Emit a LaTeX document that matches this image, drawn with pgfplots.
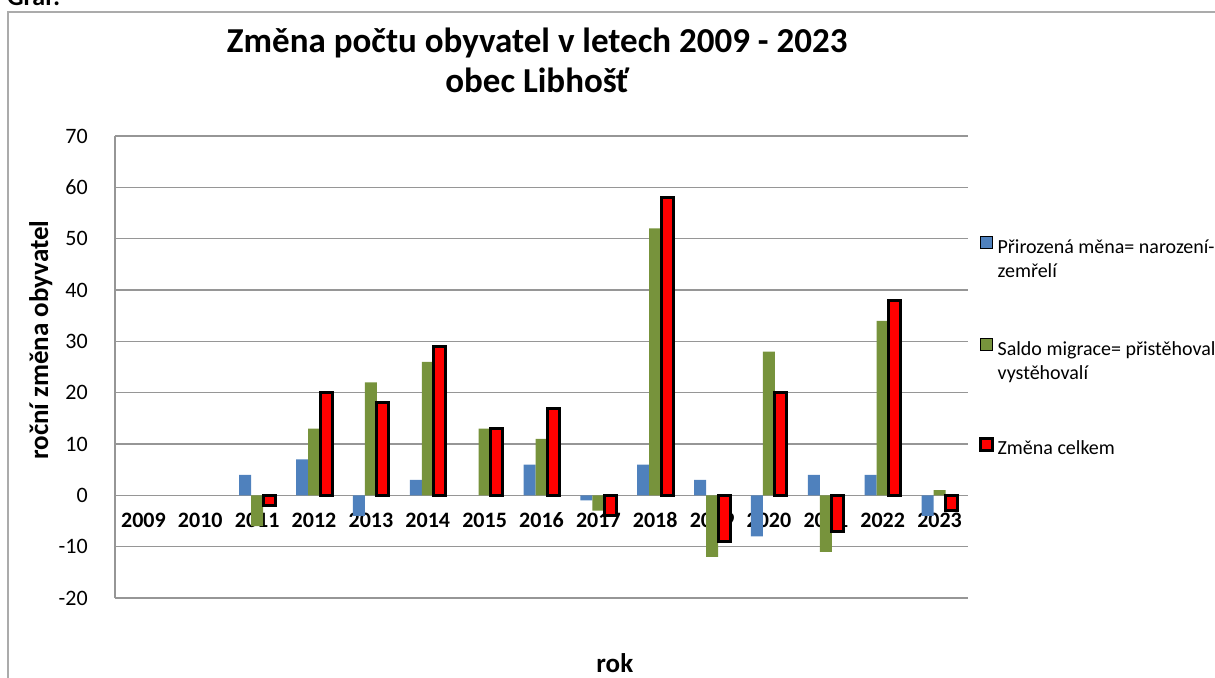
\documentclass[border=0pt]{standalone}
\usepackage{fontspec}
\setmainfont{Carlito}
\usepackage{pgfplots}
\pgfplotsset{compat=1.18}
\definecolor{cblue}{RGB}{79,129,189}
\definecolor{cgreen}{RGB}{119,147,60}
\definecolor{gridgray}{RGB}{150,150,150}
\begin{document}
\begin{tikzpicture}
\begin{axis}[
  scale only axis,
  width=426.5pt, height=231pt,
  ybar=0pt, bar width=6pt,
  xmin=-0.5, xmax=14.5, ymin=-20, ymax=70,
  ytick={-20,-10,...,70},
  xtick={0,...,14},
  xticklabels={2009,2010,2011,2012,2013,2014,2015,2016,2017,2018,2019,2020,2021,2022,2023},
  axis x line=middle, axis y line=left,
  hide obscured x ticks=false,
  axis line style={-, gridgray, line width=0.8pt},
  x axis line style={gridgray, line width=0.8pt},
  xtick style={draw=none}, ytick style={draw=none},
  ymajorgrids, grid style={gridgray, line width=0.8pt},
  /pgf/number format/assume math mode=true,
  yticklabel style={font=\fontsize{11}{13}\selectfont, xshift=-8pt},
  xticklabel style={font=\bfseries\fontsize{11}{13}\selectfont, yshift=-3pt},
  title={Změna počtu obyvatel v letech 2009 - 2023\\obec Libhošť},
  title style={at={(axis description cs:0.495,1.137)}, anchor=center, align=center,
    font=\bfseries\fontsize{17.5}{20}\selectfont},
  ylabel={roční změna obyvatel},
  ylabel style={at={(axis description cs:-0.087,0.558)}, anchor=center,
    font=\bfseries\fontsize{13.5}{15}\selectfont},
  xlabel={rok},
  xlabel style={at={(axis description cs:0.586,-0.141)}, anchor=center,
    font=\bfseries\fontsize{13.5}{15}\selectfont},
  legend style={draw=none, fill=none, at={(axis description cs:1.012,0.80)}, anchor=north west,
    font=\fontsize{10}{12}\selectfont, row sep=37pt,
    cells={anchor=base west}, inner xsep=0pt},
  legend cell align=left,
  every axis plot post/.append style={legend image code/.code={%
    \draw[##1, bar width=5pt, bar shift=0pt] (0pt,-1pt) rectangle (6pt,5pt);}},
]
\addplot[fill=cblue, draw=none] coordinates {
(2,4) (3,7) (4,-4) (5,3) (7,6) (8,-1) (9,6) (10,3) (11,-8) (12,4) (13,4) (14,-4)};
\addplot[fill=cgreen, draw=none] coordinates {
(2,-6) (3,13) (4,22) (5,26) (6,13) (7,11) (8,-3) (9,52) (10,-12) (11,28) (12,-11) (13,34) (14,1)};
\addplot[fill=red, draw=black, line width=1.5pt] coordinates {
(2,-2) (3,20) (4,18) (5,29) (6,13) (7,17) (8,-4) (9,58) (10,-9) (11,20) (12,-7) (13,38) (14,-3)};
\addlegendentry{\begin{tabular}[t]{@{}l@{}}Přirozená měna= narození-\\zemřelí\end{tabular}}
\addlegendentry{\begin{tabular}[t]{@{}l@{}}Saldo migrace= přistěhovalí-\\vystěhovalí\end{tabular}}
\addlegendentry{Změna celkem}
\end{axis}
\draw[gridgray!80, line width=1pt] (-53.5pt,-60pt) -- (-53.5pt,293pt) -- (600pt,293pt);
\node[anchor=base west, font=\bfseries\fontsize{13}{15}\selectfont] at (-57.5pt,296.5pt) {Graf:};
\pgfresetboundingbox
\useasboundingbox (-57.5pt,-39.5pt) rectangle (550pt,299pt);
\end{tikzpicture}
\end{document}
